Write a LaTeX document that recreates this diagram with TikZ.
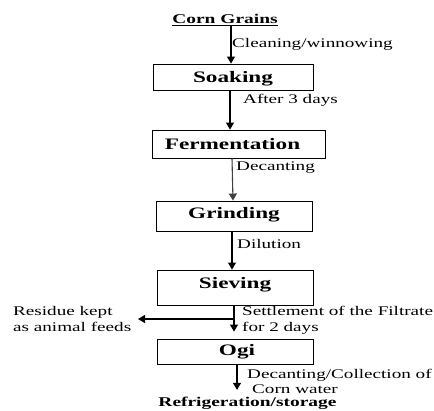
\documentclass[tikz,border=0pt]{standalone}
\usepackage{fontspec}
\setmainfont{Liberation Serif}[FakeStretch=1.45]
\usetikzlibrary{arrows.meta}
\begin{document}
\begin{tikzpicture}[x=1pt,y=-1pt,
  box/.style={draw, line width=0.9pt, font=\fontsize{16}{19}\selectfont\bfseries,
    text height=10.6pt, text depth=0pt, inner sep=0pt},
  lbl/.style={font=\fontsize{13.2}{16}\selectfont, inner sep=0pt, anchor=base west},
  ttl/.style={font=\fontsize{13.4}{16}\selectfont\bfseries, inner sep=0pt, anchor=base},
  arr/.style={line width=1.1pt, -{Triangle[width=8pt,length=7pt]}}]
\useasboundingbox (0,0) rectangle (434,410);
% titles
\node[ttl] (corn) at (225,23.5) {\underline{Corn Grains}};
\node[ttl] (refr) at (247.5,406.5) {Refrigeration/storage};
% boxes
\node[box, minimum width=160pt, minimum height=26pt] (soak) at (233,77) {Soaking};
\node[box, minimum width=173pt, minimum height=28pt] (ferm) at (238.5,144) {\hspace*{-12pt}Fermentation};
\node[box, minimum width=156pt, minimum height=30pt, text depth=6pt] (grind) at (234,216) {Grinding};
\node[box, minimum width=156pt, minimum height=35pt, text depth=8pt] (sieve) at (235,287.5) {Sieving};
\node[box, minimum width=156pt, minimum height=25pt, text depth=2pt] (ogi) at (235,351.5) {\hspace*{4pt}Ogi};
% labels
\node[lbl] (l1) at (232,47) {Cleaning/winnowing};
\node[lbl] (l2) at (243,103) {After 3 days};
\node[lbl] (l3) at (236,170) {Decanting};
\node[lbl] (l4) at (237,248) {Dilution};
\node[lbl] (l5) at (242,315) {\begin{tabular}[t]{@{}l@{}}Settlement of the Filtrate\\for 2 days\end{tabular}};
\node[lbl] (res) at (13,315) {\begin{tabular}[t]{@{}l@{}}Residue kept\\as animal feeds\end{tabular}};
\node[lbl] (l6) at (247,378) {\fontsize{13.2}{15}\selectfont\begin{tabular}[t]{@{}l@{}}Decanting/Collection of\\\hspace*{5pt}Corn water\end{tabular}};
% connectors
\coordinate (c1) at ([xshift=6pt]corn.south);
\draw[arr] (c1) -- (c1 |- soak.north);
\coordinate (s1) at ([xshift=-3pt]soak.south);
\draw[arr] (s1) -- (s1 |- ferm.north);
\draw[arr, draw=black!75, fill=black!75] ([xshift=-6.5pt]ferm.south) -- ([xshift=-1pt]grind.north);
\coordinate (g1) at ([xshift=-2pt]grind.south);
\draw[arr] (g1) -- (g1 |- sieve.north);
\coordinate (v1) at ([xshift=-1pt]sieve.south);
\coordinate (v2) at ([yshift=7pt]ogi.north);
\draw[arr] (v1) -- (v1 |- v2);
\coordinate (br) at (234,319);
\coordinate (resend) at (138,319);
\draw[arr] (br) -- (resend);
\coordinate (o1) at ([xshift=2pt]ogi.south);
\coordinate (rtop) at ([yshift=7pt]refr.north);
\draw[arr] (o1) -- (o1 |- rtop);
\end{tikzpicture}
\end{document}
